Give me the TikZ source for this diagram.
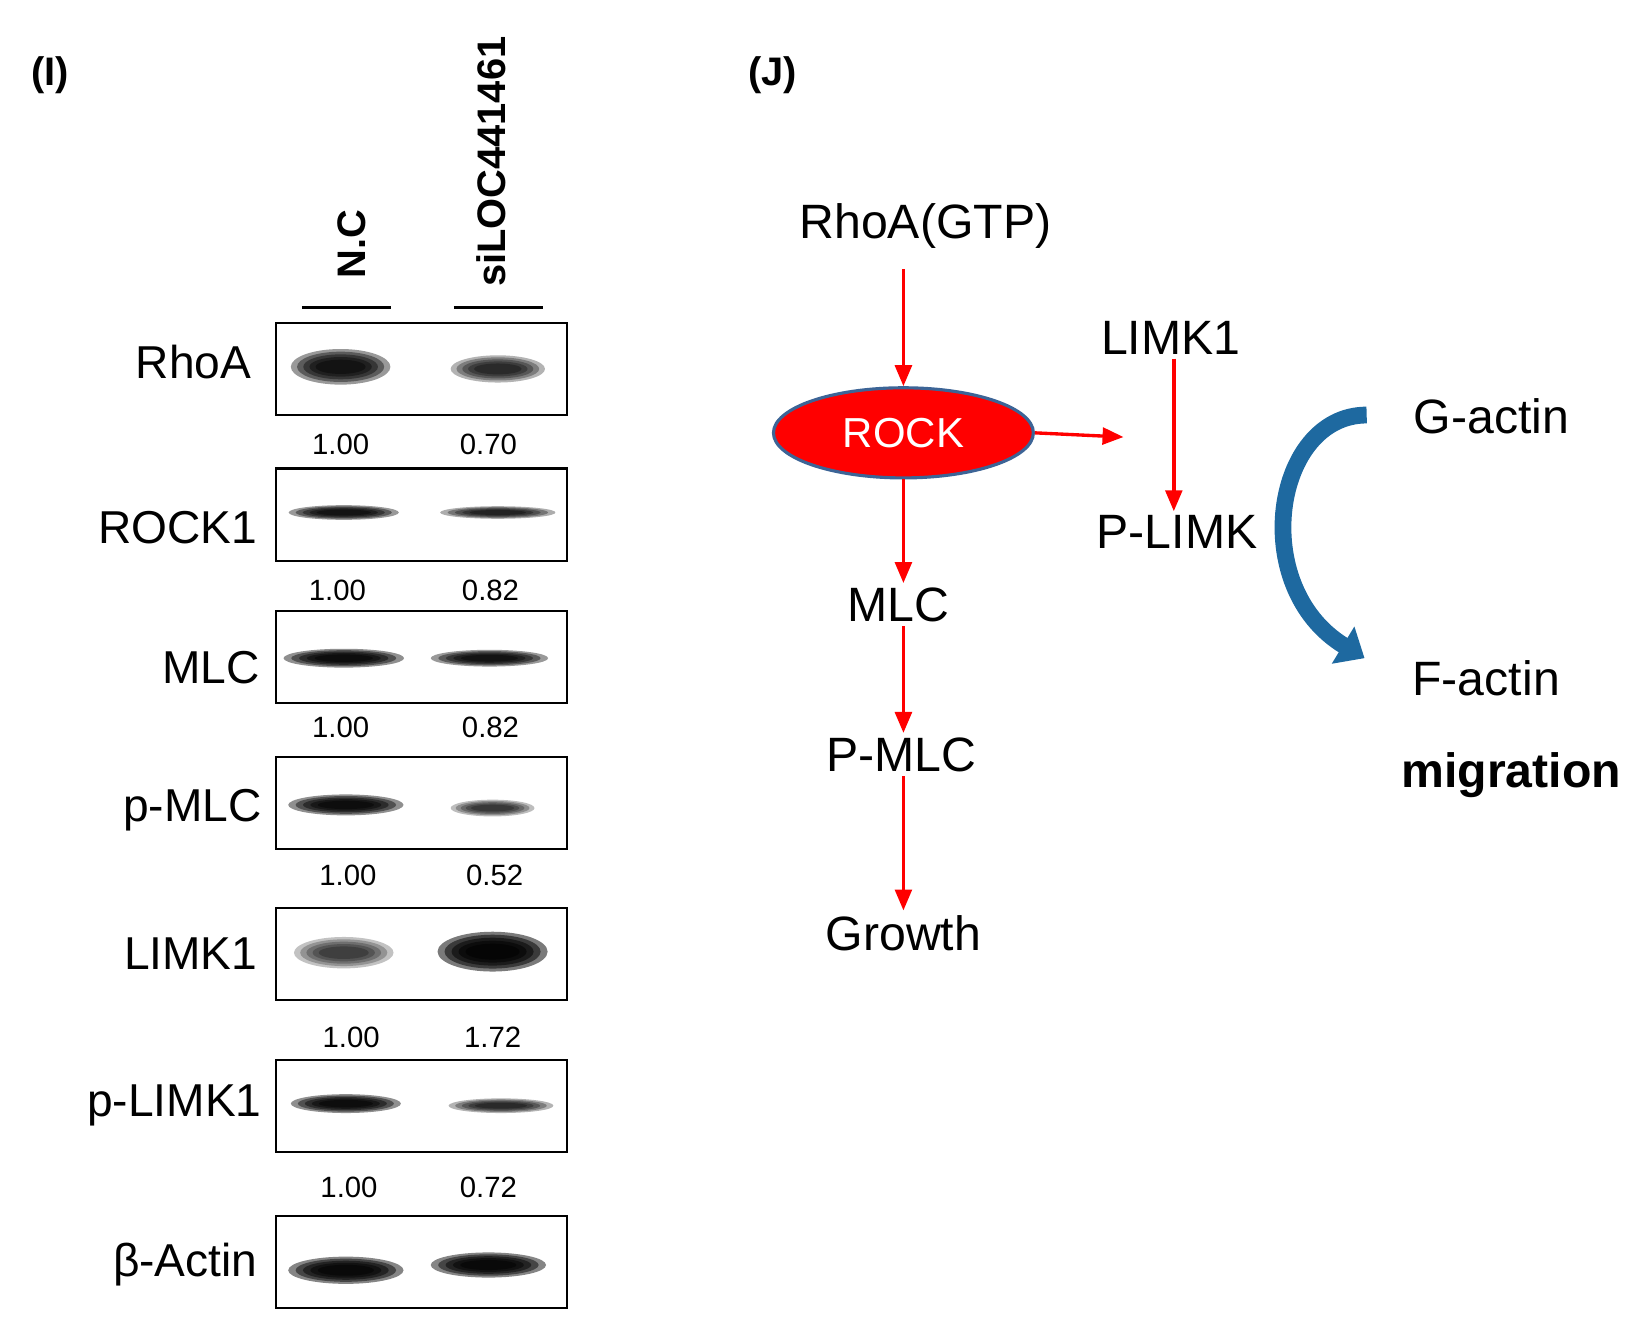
\documentclass[tikz,border=0pt]{standalone}
\usepackage{fontspec}
\setmainfont{Liberation Sans}
\usetikzlibrary{arrows.meta,shapes.geometric}
\definecolor{rockblue}{RGB}{60,100,150}
\definecolor{curveblue}{RGB}{30,105,160}
\newcommand{\myband}[5]{% x y w h opacity
  \foreach \k in {1.0,0.85,0.7,0.55,0.4}{
    \fill[black,opacity=#5*0.4] (#1,#2) ellipse ({#3*\k*0.5+8*(1-\k)} and {#4*\k*0.5});
  }}
\begin{document}
\begin{tikzpicture}[x=0.5pt,y=-0.5pt,
  lbl/.style={font=\fontsize{22}{26}\selectfont,anchor=east,inner sep=0},
  num/.style={font=\fontsize{14}{16}\selectfont,inner sep=0},
  flow/.style={font=\fontsize{23}{28}\selectfont,inner sep=2pt},
  rarr/.style={draw=red,line width=1.6pt,-{Triangle[length=10pt,width=8pt]}},
  blot/.style={draw=black,line width=1pt,fill=white}]
\useasboundingbox (0,0) rectangle (1561,1279);
\node[font=\bfseries\fontsize{19}{22}\selectfont] (lI) at (48,72) {(I)};
\node[font=\bfseries\fontsize{19}{22}\selectfont] (lJ) at (737,72) {(J)};
% lane headers
\node[font=\bfseries\fontsize{19}{22}\selectfont,rotate=90,anchor=west,inner sep=0] (nc) at (336,266) {N.C};
\node[font=\bfseries\fontsize{19}{22}\selectfont,rotate=90,anchor=west,inner sep=0] (si) at (469,274) {siLOC441461};
\draw[line width=1.5pt] (288,293) coordinate (a1) -- (373,293) coordinate (a2);
\draw[line width=1.5pt] (433,293) coordinate (b1) -- (518,293) coordinate (b2);
% blots
\foreach \yt in {308,447,583,722,866,1011,1160}{
  \draw[blot] (263,\yt) rectangle (541,\yt+88);
}
\myband{325}{350}{95}{34}{1}
\myband{475}{352}{90}{26}{0.75}
\myband{328}{489}{105}{14}{1}
\myband{475}{489}{110}{12}{0.8}
\myband{328}{628}{115}{18}{1.1}
\myband{467}{628}{112}{16}{1}
\myband{330}{768}{110}{20}{1.1}
\myband{470}{771}{80}{16}{0.65}
\myband{328}{909}{95}{30}{0.6}
\myband{470}{908}{105}{38}{1.3}
\myband{330}{1053}{105}{18}{1.1}
\myband{478}{1055}{100}{14}{0.75}
\myband{330}{1212}{110}{26}{1.2}
\myband{466}{1207}{110}{24}{1.2}
\node[lbl] (r1) at (240,345) {RhoA};
\node[lbl] (r2) at (246,503) {ROCK1};
\node[lbl] (r3) at (248,637) {MLC};
\node[lbl] (r4) at (250,773) {p-MLC};
\node[lbl] (r5) at (246,910) {LIMK1};
\node[lbl] (r6) at (250,1055) {p-LIMK1};
\node[lbl] (r7) at (246,1207) {β-Actin};
\node[num] (n1a) at (325,424) {1.00}; \node[num] (n1b) at (466,424) {0.70};
\node[num] (n2a) at (322,563) {1.00}; \node[num] (n2b) at (468,563) {0.82};
\node[num] (n3a) at (325,694) {1.00}; \node[num] (n3b) at (468,694) {0.82};
\node[num] (n4a) at (332,835) {1.00}; \node[num] (n4b) at (472,835) {0.52};
\node[num] (n5a) at (335,990) {1.00}; \node[num] (n5b) at (470,990) {1.72};
\node[num] (n6a) at (333,1133) {1.00}; \node[num] (n6b) at (466,1133) {0.72};
% pathway
\node[flow] (rho) at (883,216) {RhoA(GTP)};
\node[ellipse,draw=rockblue,line width=1.5pt,fill=red,minimum width=124pt,minimum height=43pt,text=white,font=\fontsize{20}{24}\selectfont] (rock) at (862,413) {ROCK};
\node[flow] (limk) at (1117,322) {LIMK1};
\node[flow] (plimk) at (1123,508) {P-LIMK};
\node[flow] (mlc) at (857,577) {MLC};
\node[flow] (pmlc) at (860,720) {P-MLC};
\node[flow] (growth) at (862,890) {Growth};
\node[flow] (gact) at (1423,397) {G-actin};
\node[flow] (fact) at (1418,647) {F-actin};
\node[flow,font=\bfseries\fontsize{23}{28}\selectfont] (mig) at (1442,740) {migration};
\coordinate (rk) at (1072,417);
\draw[rarr] (862,257) -- (rock.north);
\draw[rarr] (rock.east) -- (rk);
\draw[rarr] (limk.south -| 1120,0) -- (plimk.north -| 1120,0);
\draw[rarr] (rock.south) -- (mlc.north -| rock.south);
\draw[rarr] (mlc.south -| rock.south) -- (pmlc.north -| rock.south);
\draw[rarr] (pmlc.south -| rock.south) -- (growth.north -| rock.south);
\coordinate (c1) at (1304,396);
\coordinate (c2) at (1302,628);
\draw[curveblue,line width=8pt,-{Triangle[length=12pt,width=20pt]}] (c1) .. controls (1215,396) and (1190,560) .. (c2);
\end{tikzpicture}
\end{document}
